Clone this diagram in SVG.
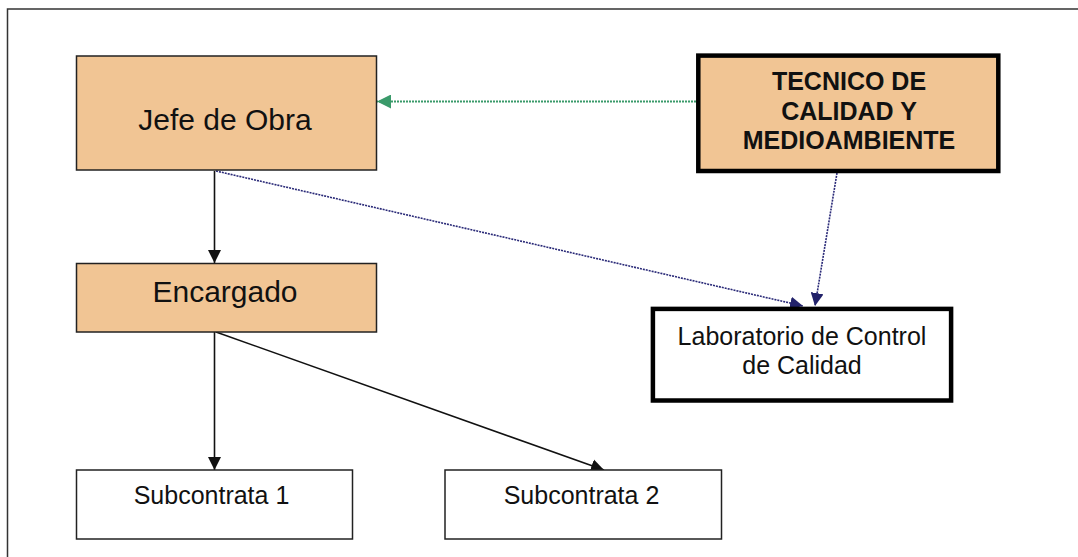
<svg xmlns="http://www.w3.org/2000/svg" width="1078" height="557" viewBox="0 0 1078 557">
<style>
  .frame{fill:none;stroke:#333;stroke-width:1.5}
  .orange{fill:#f1c594;stroke:#222;stroke-width:1.5}
  .white{fill:#fff;stroke:#222;stroke-width:1.5}
  rect.thick{stroke:#000;stroke-width:4.5}
  .t{font-family:"Liberation Sans",Arial,sans-serif;fill:#111;text-anchor:middle}
  .solid{stroke:#111;stroke-width:1.6;fill:none}
  .green{stroke:#3a9a6a;stroke-width:2;stroke-dasharray:2 1;fill:none}
  .blue{stroke:#2a2a78;stroke-width:1.6;stroke-dasharray:2 1;fill:none}
</style>
<defs>
  <marker id="ab" viewBox="0 0 10 10" refX="10" refY="5" markerWidth="13" markerHeight="14" markerUnits="userSpaceOnUse" orient="auto"><path d="M0,0 L10,5 L0,10 z" fill="#111"/></marker>
  <marker id="ag" viewBox="0 0 10 10" refX="10" refY="5" markerWidth="15" markerHeight="14" markerUnits="userSpaceOnUse" orient="auto"><path d="M0,0 L10,5 L0,10 z" fill="#3a9a6a"/></marker>
  <marker id="an" viewBox="0 0 10 10" refX="10" refY="5" markerWidth="13" markerHeight="13" markerUnits="userSpaceOnUse" orient="auto"><path d="M0,0 L10,5 L0,10 z" fill="#22226a"/></marker>
</defs>
<rect width="1078" height="557" fill="#fff"/>
<rect class="frame" x="7.5" y="9" width="1100" height="600"/>
<g id="connectors">
  <line class="solid" x1="214.5" y1="171" x2="214.5" y2="263" marker-end="url(#ab)"/>
  <line class="solid" x1="214.5" y1="332" x2="214.5" y2="470" marker-end="url(#ab)"/>
  <line class="solid" x1="216" y1="332" x2="604" y2="470" marker-end="url(#ab)"/>
  <line class="green" x1="696" y1="101.5" x2="377" y2="101.5" marker-end="url(#ag)"/>
  <line class="blue" x1="216" y1="171" x2="803" y2="306" marker-end="url(#an)"/>
  <line class="blue" x1="837" y1="173" x2="815" y2="306" marker-end="url(#an)"/>
</g>
<g id="jefe">
  <rect class="orange" x="76.5" y="56" width="300" height="114"/>
  <text class="t" x="225" y="130" font-size="30">Jefe de Obra</text>
</g>
<g id="tecnico">
  <rect class="orange thick" x="698.3" y="55.6" width="300" height="115.4"/>
  <text class="t" x="849" y="90" font-size="25" font-weight="bold">TECNICO DE</text>
  <text class="t" x="849" y="119.5" font-size="25" font-weight="bold">CALIDAD Y</text>
  <text class="t" x="849" y="149" font-size="25" font-weight="bold">MEDIOAMBIENTE</text>
</g>
<g id="encargado">
  <rect class="orange" x="76.5" y="263.5" width="300" height="68.5"/>
  <text class="t" x="225" y="301.5" font-size="30">Encargado</text>
</g>
<g id="laboratorio">
  <rect class="white thick" x="652.9" y="308.9" width="298.2" height="91.6"/>
  <text class="t" x="802" y="345" font-size="25">Laboratorio de Control</text>
  <text class="t" x="802" y="373.5" font-size="25">de Calidad</text>
</g>
<g id="sub1">
  <rect class="white" x="76.5" y="470" width="276" height="69"/>
  <text class="t" x="211.5" y="504" font-size="25">Subcontrata 1</text>
</g>
<g id="sub2">
  <rect class="white" x="445" y="470" width="276.5" height="69"/>
  <text class="t" x="581.5" y="504" font-size="25">Subcontrata 2</text>
</g>
</svg>
